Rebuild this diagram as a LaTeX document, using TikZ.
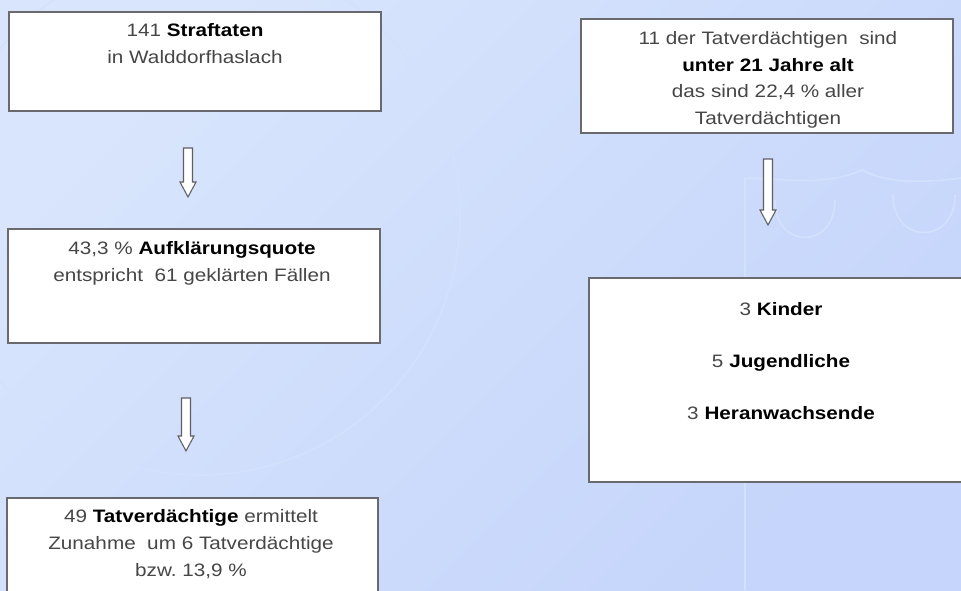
\documentclass[tikz,border=0pt]{standalone}
\usepackage{fontspec}
\setmainfont{Liberation Sans}[FakeStretch=1.15]
\usetikzlibrary{fit,calc}
\definecolor{bgul}{RGB}{216,229,252}
\definecolor{bgmid}{RGB}{201,217,252}
\definecolor{bglr}{RGB}{197,213,251}
\definecolor{wmcolor}{RGB}{212,225,253}
\definecolor{boxgray}{RGB}{105,105,110}
\definecolor{arrowgray}{RGB}{95,95,100}
\definecolor{textgray}{RGB}{70,70,70}
\newcommand\bemph[1]{\textbf{\color{black}#1}}
\begin{document}
\begin{tikzpicture}[x=0.75pt,y=-0.75pt,
  box/.style={draw=boxgray, line width=1.1pt, fill=white, inner sep=0pt},
  txt/.style={align=center, inner sep=0pt, text=textgray, font=\fontsize{13.5pt}{19.9pt}\selectfont},
  arrowshape/.style={draw=arrowgray, fill=white, line width=0.8pt, line join=miter},
  wm/.style={draw=wmcolor, line width=1.2pt},
  pics/downarrow/.style={code={\draw[arrowshape] (-4.5,0) -- (4.5,0) -- (4.5,#1-15) -- (8,#1-15) -- (0,#1) -- (-8,#1-15) -- (-4.5,#1-15) -- cycle;}}
]
\useasboundingbox (0,0) rectangle (961,590);
\clip (0,0) rectangle (961,590);
\shade[top color=bgul, middle color=bgmid, bottom color=bglr, shading angle=45] (0,0) rectangle (961,590);
% faint watermark
\draw[wm] (200,215) circle[radius=260];
\draw[wm] (745,178) -- (745,590);
\draw[wm] (745,178) .. controls (790,180) and (830,185) .. (862,170) .. controls (890,185) and (930,182) .. (961,178);
\draw[wm] (775,200) .. controls (775,250) and (835,250) .. (835,200);
\draw[wm] (893,195) .. controls (893,245) and (955,245) .. (955,195);
% boxes
\node[box, fit={(9,12) (381,111)}] (b1) {};
\node[box, fit={(8,229) (380,343)}] (b2) {};
\node[box, fit={(7,498) (378,610)}] (b3) {};
\node[box, fit={(581,19) (953,133)}] (r1) {};
\node[box, fit={(589,278) (975,482)}] (r2) {};
% texts (anchor base = baseline of the last line)
\node[txt, anchor=base] (t1) at (195,63.5) {141 \bemph{Straftaten}\\in Walddorfhaslach};
\node[txt, anchor=base] (t2) at (192,281.5) {43,3 \% \bemph{Aufklärungsquote}\\entspricht\ \ 61 geklärten Fällen};
\node[txt, anchor=base] (t3) at (191,576) {49 \bemph{Tatverdächtige} ermittelt\\Zunahme\ \ um 6 Tatverdächtige\\bzw.\ 13,9 \%};
\node[txt, anchor=base] (t4) at (768,124.5) {11 der Tatverdächtigen\ \ sind\\\bemph{unter 21 Jahre alt}\\das sind 22,4 \% aller\\Tatverdächtigen};
\node[txt, anchor=base] (t5) at (781,419.5) {3 \bemph{Kinder}\\[19pt]5 \bemph{Jugendliche}\\[19pt]3 \bemph{Heranwachsende}};
% block arrows
\coordinate (a1) at (188,148);
\coordinate (a2) at (186,398);
\coordinate (a3) at (768,159);
\pic at (a1) {downarrow=49};
\pic at (a2) {downarrow=53};
\pic at (a3) {downarrow=66};
\end{tikzpicture}
\end{document}
